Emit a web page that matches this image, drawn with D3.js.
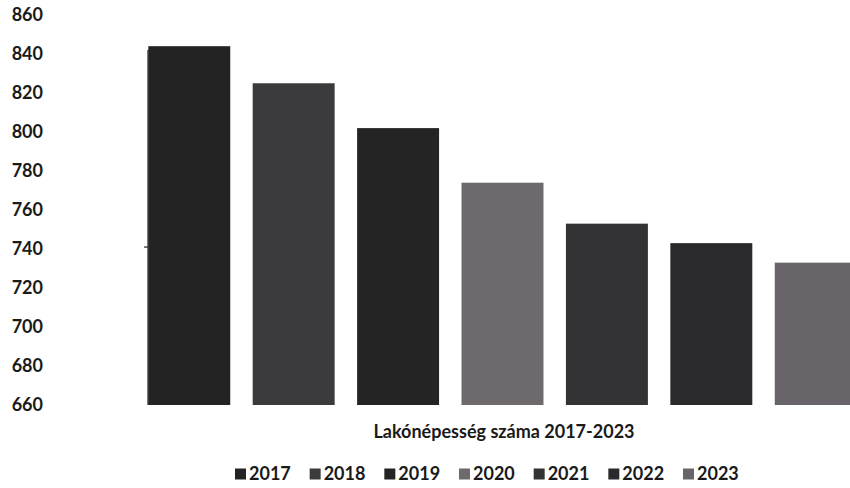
<!DOCTYPE html>
<html><head><meta charset="utf-8">
<script src="https://cdn.jsdelivr.net/npm/d3@7"></script>
<style>body{margin:0;background:#fff}svg{display:block}</style>
</head><body>
<svg id="c" width="850" height="488"></svg>
<script>
const years = ["2017","2018","2019","2020","2021","2022","2023"];
const values = [844, 825, 802, 774, 753, 743, 733];
const colors = ["#232323","#3b3a3d","#242424","#6d696d","#333335","#2a2a2c","#68646a"];
const yTicks = [660,680,700,720,740,760,780,800,820,840,860];
const title = "Lakónépesség száma 2017-2023";

const svg = d3.select("#c");
const font = "Lato, 'Open Sans', sans-serif";
const x = d3.scaleBand().domain(years).range([137, 868]).paddingInner(0.215).paddingOuter(0.108);
const y = d3.scaleLinear().domain([660, 860]).range([405, 15]);

svg.selectAll("rect.bar").data(years).join("rect")
  .attr("class","bar")
  .attr("x", d => x(d))
  .attr("width", x.bandwidth())
  .attr("y", (d,i) => y(values[i]))
  .attr("height", (d,i) => y(660) - y(values[i]))
  .attr("fill", (d,i) => colors[i]);

svg.selectAll("text.yl").data(yTicks).join("text")
  .attr("class","yl")
  .attr("x", 43).attr("y", d => y(d))
  .attr("dy","0.35em").attr("text-anchor","end")
  .attr("font-family", font).attr("font-weight","bold").attr("font-size", 18)
  .attr("fill","#1a1a1a").text(d => d);

// axis line and single tick
svg.append("line").attr("x1",148).attr("x2",148).attr("y1",y(842)).attr("y2",y(660))
  .attr("stroke","#222").attr("stroke-width",1.2);
svg.append("line").attr("x1",144).attr("x2",148).attr("y1",y(741)).attr("y2",y(741))
  .attr("stroke","#222").attr("stroke-width",1.2);

svg.append("text").attr("x",504).attr("y",432).attr("dy","0.35em")
  .attr("text-anchor","middle").attr("font-family",font).attr("font-weight","bold")
  .attr("font-size",18).attr("fill","#1a1a1a").text(title);

const lx = d3.scalePoint().domain(years).range([235, 683]);
const lg = svg.selectAll("g.lg").data(years).join("g").attr("class","lg")
  .attr("transform", d => `translate(${lx(d)},474)`);
lg.append("rect").attr("x",0).attr("y",-5.5).attr("width",11).attr("height",11)
  .attr("fill",(d,i)=>colors[i]);
lg.append("text").attr("x",14).attr("dy","0.35em").attr("font-family",font)
  .attr("font-weight","bold").attr("font-size",18).attr("fill","#1a1a1a").text(d=>d);
</script>
</body></html>
